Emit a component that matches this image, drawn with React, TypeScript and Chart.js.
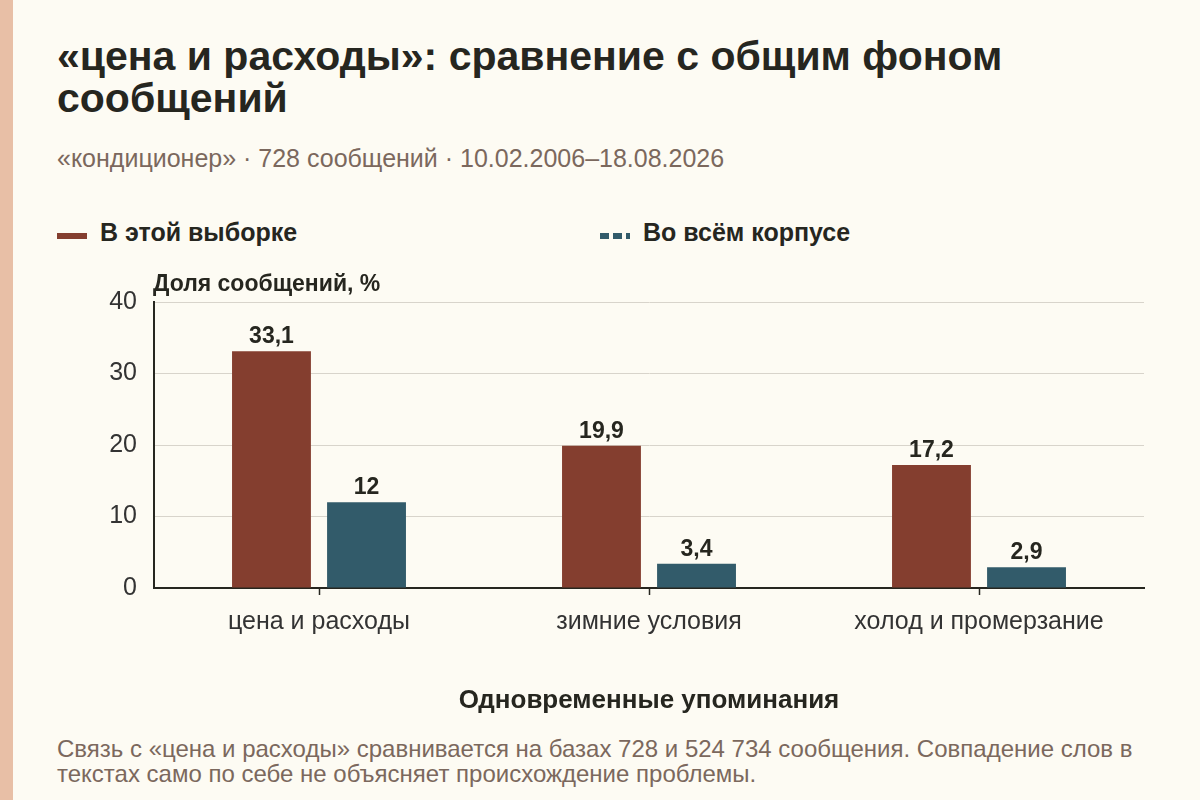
import { useEffect, useRef } from 'react'
import { Chart, registerables } from 'chart.js'

Chart.register(...registerables)

const categories = ['цена и расходы', 'зимние условия', 'холод и промерзание']
const sampleShare = [33.1, 19.9, 17.2]
const corpusShare = [12, 3.4, 2.9]
const yTicks = [0, 10, 20, 30, 40]

const RED = '#843e2f'
const BLUE = '#325b6a'
const INK = '#26261f'
const MUTED = '#7b685d'
const FONT = '"Liberation Sans", Arial, sans-serif'

const fmt = (v: number) => String(v).replace('.', ',')

const valueLabels = {
  id: 'valueLabels',
  afterDatasetsDraw(chart: Chart) {
    const { ctx } = chart
    ctx.save()
    ctx.font = `bold 23px ${FONT}`
    ctx.fillStyle = INK
    ctx.textAlign = 'center'
    ctx.textBaseline = 'alphabetic'
    chart.data.datasets.forEach((ds, i) => {
      chart.getDatasetMeta(i).data.forEach((bar: any, j) => {
        ctx.fillText(fmt(ds.data[j] as number), bar.x, bar.y - 8)
      })
    })
    ctx.restore()
  },
}

const yTitle = {
  id: 'yTitle',
  afterDraw(chart: Chart) {
    const { ctx, chartArea } = chart
    ctx.save()
    ctx.font = `bold 23px ${FONT}`
    ctx.fillStyle = INK
    ctx.textAlign = 'left'
    ctx.textBaseline = 'middle'
    ctx.fillText('Доля сообщений, %', chartArea.left - 1, chartArea.top - 17)
    ctx.restore()
  },
}

function BarChart() {
  const ref = useRef<HTMLCanvasElement>(null)
  const inst = useRef<Chart | null>(null)

  useEffect(() => {
    if (!ref.current) return
    if (inst.current) inst.current.destroy()
    inst.current = new Chart(ref.current, {
      type: 'bar',
      data: {
        labels: categories,
        datasets: [
          { label: 'В этой выборке', data: sampleShare, backgroundColor: RED, categoryPercentage: 0.576, barPercentage: 0.83 },
          { label: 'Во всём корпусе', data: corpusShare, backgroundColor: BLUE, categoryPercentage: 0.576, barPercentage: 0.83 },
        ],
      },
      options: {
        responsive: true,
        maintainAspectRatio: false,
        animation: false,
        layout: { padding: { top: 52, right: 56, left: 0, bottom: 0 } },
        plugins: { legend: { display: false }, tooltip: { enabled: false } },
        scales: {
          x: {
            afterFit: (s: any) => { s.height = 132 },
            grid: { drawOnChartArea: false, offset: false, tickLength: 7, color: INK, tickWidth: 1.5 },
            border: { color: INK, width: 2 },
            ticks: { color: '#333', font: { family: FONT, size: 25 }, padding: 12 },
            title: { display: true, text: 'Одновременные упоминания', color: INK, font: { family: FONT, size: 26, weight: 'bold' }, padding: { bottom: 4 } },
          },
          y: {
            min: 0,
            max: 40,
            afterFit: (s: any) => { s.width = 154 },
            afterBuildTicks: (s: any) => { s.ticks = yTicks.map(v => ({ value: v })) },
            grid: { color: '#d8d4cb', lineWidth: 1, drawTicks: false },
            border: { color: INK, width: 2 },
            ticks: { color: '#333', font: { family: FONT, size: 25 }, padding: 17 },
          },
        },
      },
      plugins: [valueLabels, yTitle],
    })
    return () => inst.current?.destroy()
  }, [])

  return <div style={{ position: 'absolute', left: 0, top: 250, width: 1200, height: 470 }}><canvas ref={ref} /></div>
}

export default function App() {
  useEffect(() => { document.body.style.margin = '0' }, [])
  const legendRow = { position: 'absolute' as const, top: 217, fontSize: 25, lineHeight: '30px', fontWeight: 'bold' as const, color: INK, display: 'flex', alignItems: 'center' }
  return (
    <div style={{ position: 'relative', width: 1200, height: 800, background: '#fdfbf3', fontFamily: FONT, overflow: 'hidden' }}>
      <div style={{ position: 'absolute', left: 0, top: 0, width: 13, height: 800, background: '#e8bfa6' }} />
      <div style={{ position: 'absolute', left: 57, top: 35, width: 1120, fontSize: 41, lineHeight: '42px', fontWeight: 'bold', color: INK }}>
        «цена и расходы»: сравнение с общим фоном<br />сообщений
      </div>
      <div style={{ position: 'absolute', left: 57, top: 143, fontSize: 25, lineHeight: '30px', color: MUTED }}>
        «кондиционер» · 728 сообщений · 10.02.2006–18.08.2026
      </div>
      <div style={{ ...legendRow, left: 57 }}>
        <span style={{ display: 'inline-block', width: 30, height: 6, marginTop: 8, background: RED, marginRight: 13 }} />
        В этой выборке
      </div>
      <div style={{ ...legendRow, left: 600 }}>
        <span style={{ display: 'inline-block', width: 30, height: 6, marginTop: 8, marginRight: 13, background: `repeating-linear-gradient(90deg, ${BLUE} 0 9px, transparent 9px 13px)` }} />
        Во всём корпусе
      </div>
      <BarChart />
      <div style={{ position: 'absolute', left: 57, top: 736, width: 1130, fontSize: 24, lineHeight: '25px', color: MUTED }}>
        Связь с «цена и расходы» сравнивается на базах 728 и 524 734 сообщения. Совпадение слов в<br />текстах само по себе не объясняет происхождение проблемы.
      </div>
    </div>
  )
}
